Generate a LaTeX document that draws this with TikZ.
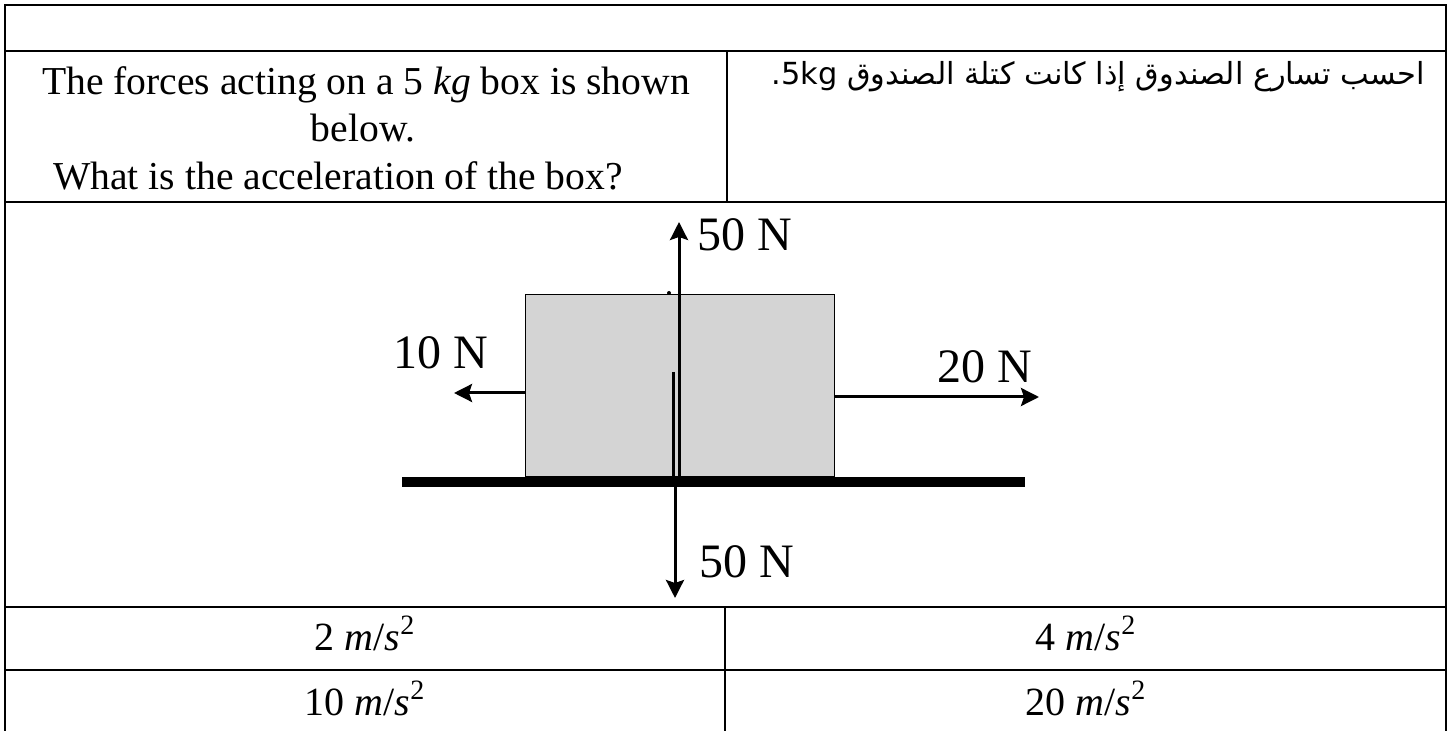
\documentclass[tikz,border=0pt]{standalone}
\usepackage{fontspec}
\setmainfont{Liberation Serif}
\newfontfamily\arabicfont[Script=Arabic]{DejaVu Sans}
\TeXXeTstate=1
\usetikzlibrary{arrows.meta}

\begin{document}
\begin{tikzpicture}[
    x={(0.5pt,0pt)}, y={(0pt,-0.5pt)},
    every node/.style={inner sep=0pt},
    rule/.style={line width=1.3pt},
    thinrule/.style={line width=0.8pt},
    force/.style={line width=1.5pt, -{Stealth[length=9pt, width=9pt, inset=1.5pt]}},
    forcelabel/.style={font=\fontsize{24}{28}\selectfont},
    question/.style={font=\fontsize{19.8}{24}\selectfont},
    answer/.style={font=\fontsize{20}{24}\selectfont},
  ]
    \definecolor{boxfill}{HTML}{D4D4D4}
    \useasboundingbox (0,0) rectangle (1449,731);

    % ---- table ----
    \draw[rule] (5,731) -- (5,5) -- (1446,5) -- (1446,731);
    \draw[rule] (5,51) -- (1446,51);
    \draw[rule] (5,202) -- (1446,202);
    \draw[rule] (5,607) -- (1446,607);
    \draw[rule] (5,670) -- (1446,670);
    \draw[thinrule] (727,51) -- (727,202);
    \draw[thinrule] (725,607) -- (725,731);

    % ---- question ----
    \node[question, anchor=base] (qline1) at (366,95)
      {The forces acting on a 5 \textit{kg} box is shown};
    \node[question, anchor=base] (qline2) at (363,142) {below.};
    \node[question, anchor=base] (qline3) at (338,190)
      {What is the acceleration of the box?};
    \node[anchor=base east, font=\arabicfont\fontsize{15.2}{18}\selectfont] (qarabic) at (1425,85)
      {\beginR احسب تسارع الصندوق إذا كانت كتلة الصندوق \beginL 5kg\endL.\endR};

    % ---- free body diagram ----
    \node[draw, fill=boxfill, line width=0.5pt, minimum width=154.5pt, minimum height=91pt,
      anchor=south west] (box) at (525,477) {};
    \fill (669,293) circle (1pt);
    \coordinate (groundW) at (402,482);
    \coordinate (groundE) at (1025,482);
    \draw[line width=5pt] (groundW) -- (groundE);

    \coordinate (upBase) at (679,482);
    \coordinate (upTip) at (679,222);
    \draw[force] (upBase) -- (upTip);
    \coordinate (innerTop) at (673,372);
    \coordinate (innerBot) at (673,482);
    \draw[line width=1.5pt] (innerTop) -- (innerBot);
    \coordinate (downBase) at (675,482);
    \coordinate (downTip) at (675,598);
    \draw[force] (downBase) -- (downTip);
    \coordinate (leftTip) at (454,393);
    \draw[force] (leftTip -| box.west) -- (leftTip);
    \coordinate (rightTip) at (1039,397);
    \draw[force] (rightTip -| box.east) -- (rightTip);

    \node[forcelabel, anchor=west] (upLabel) at (697,235) {50 N};
    \node[forcelabel, anchor=west] (leftLabel) at (393,353) {10 N};
    \node[forcelabel, anchor=west] (rightLabel) at (937,367) {20 N};
    \node[forcelabel, anchor=west] (downLabel) at (699,562) {50 N};

    % ---- answers ----
    \node[answer, anchor=base] (ansA) at (365,650) {2 \textit{m}/\textit{s}\textsuperscript{2}};
    \node[answer, anchor=base] (ansB) at (1086,650) {4 \textit{m}/\textit{s}\textsuperscript{2}};
    \node[answer, anchor=base] (ansC) at (365,715) {10 \textit{m}/\textit{s}\textsuperscript{2}};
    \node[answer, anchor=base] (ansD) at (1086,715) {20 \textit{m}/\textit{s}\textsuperscript{2}};
  \end{tikzpicture}
\end{document}
